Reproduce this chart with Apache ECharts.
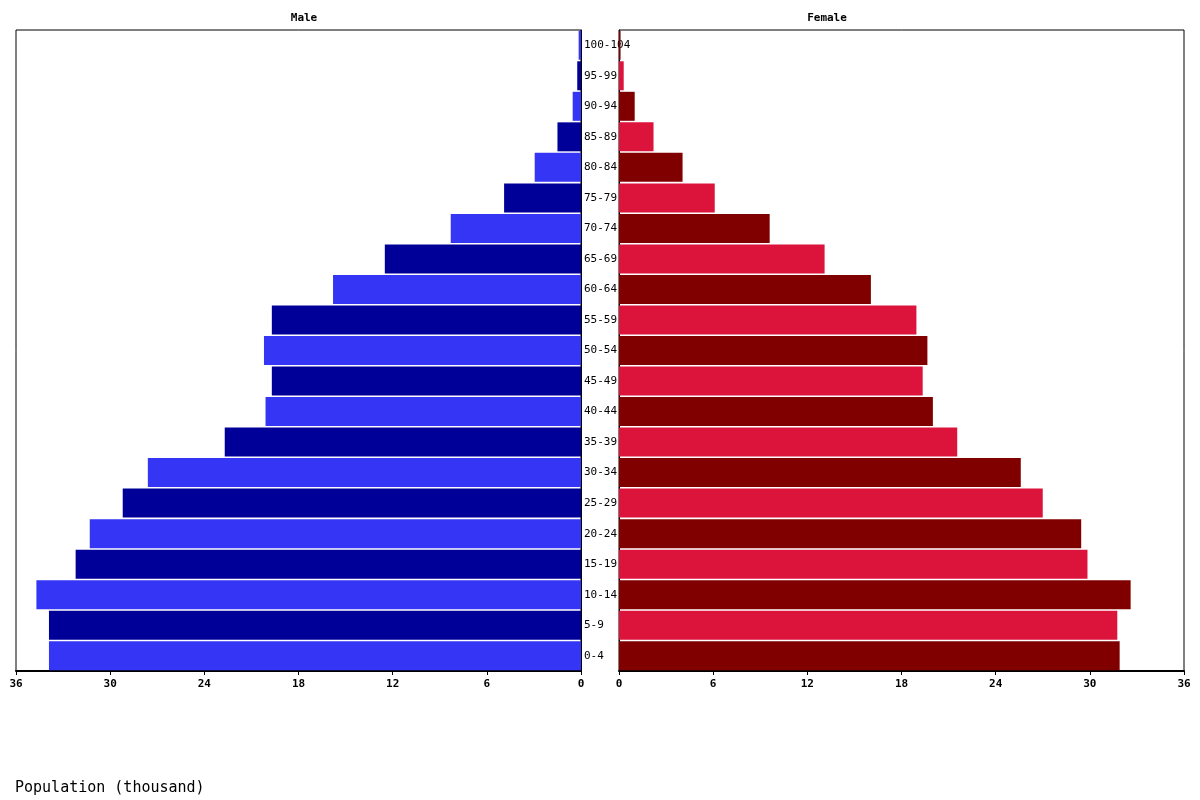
<!DOCTYPE html>
<html>
<head>
<meta charset="utf-8">
<script src="https://cdn.jsdelivr.net/npm/echarts@6/dist/echarts.min.js"></script>
<style>
  html, body { margin: 0; padding: 0; background: #fff; }
  #chart { width: 1200px; height: 800px; }
</style>
</head>
<body>
<div id="chart"></div>
<script>
var myChart = echarts.init(document.getElementById('chart'));

// age groups, bottom to top
var ageGroups = ['0-4', '5-9', '10-14', '15-19', '20-24', '25-29', '30-34', '35-39', '40-44', '45-49',
    '50-54', '55-59', '60-64', '65-69', '70-74', '75-79', '80-84', '85-89', '90-94', '95-99', '100-104'];

// population in thousands
var maleValues = [33.9, 33.9, 34.7, 32.2, 31.3, 29.2, 27.6, 22.7, 20.1, 19.7,
    20.2, 19.7, 15.8, 12.5, 8.3, 4.9, 2.95, 1.5, 0.53, 0.24, 0.15];
var femaleValues = [31.9, 31.75, 32.6, 29.85, 29.45, 27.0, 25.6, 21.55, 20.0, 19.35,
    19.65, 18.95, 16.05, 13.1, 9.6, 6.1, 4.05, 2.2, 1.0, 0.3, 0.1];

var xTicks = { min: 0, max: 36, interval: 6 };

var maleColors = ['#3535f5', '#000099'];
var femaleColors = ['#800000', '#dc143c'];

function colored(values, colors) {
    var out = [];
    for (var i = 0; i < values.length; i++) {
        out.push({ value: values[i], itemStyle: { color: colors[i % 2] } });
    }
    return out;
}

var mono = 'DejaVu Sans Mono';
var axisLabelStyle = { fontFamily: mono, fontSize: 11, fontWeight: 'bold', color: '#000', margin: 8 };

myChart.setOption({
    animation: false,
    backgroundColor: '#fff',
    title: [
        { text: 'Male', left: 299, top: 8, textAlign: 'center',
          textStyle: { fontFamily: mono, fontSize: 11, fontWeight: 'bold', color: '#000' } },
        { text: 'Female', left: 822, top: 8, textAlign: 'center',
          textStyle: { fontFamily: mono, fontSize: 11, fontWeight: 'bold', color: '#000' } },
        { text: 'Population (thousand)', left: 10, top: 776,
          textStyle: { fontFamily: mono, fontSize: 15, fontWeight: 'normal', color: '#000' } }
    ],
    grid: [
        { left: 16, top: 30, width: 565, height: 641, show: true, borderColor: '#000', borderWidth: 1 },
        { left: 619, top: 30, width: 565, height: 641, show: true, borderColor: '#000', borderWidth: 1 }
    ],
    xAxis: [
        { type: 'value', gridIndex: 0, inverse: true, min: xTicks.min, max: xTicks.max, interval: xTicks.interval,
          axisLine: { show: true, lineStyle: { color: '#000', width: 2 } },
          axisTick: { show: true, length: 4, lineStyle: { color: '#000' } },
          axisLabel: axisLabelStyle, splitLine: { show: false } },
        { type: 'value', gridIndex: 1, min: xTicks.min, max: xTicks.max, interval: xTicks.interval,
          axisLine: { show: true, lineStyle: { color: '#000', width: 2 } },
          axisTick: { show: true, length: 4, lineStyle: { color: '#000' } },
          axisLabel: axisLabelStyle, splitLine: { show: false } }
    ],
    yAxis: [
        { type: 'category', gridIndex: 0, data: ageGroups, position: 'right',
          axisLine: { show: true, lineStyle: { color: '#000' } }, axisTick: { show: false },
          axisLabel: { fontFamily: mono, fontSize: 11, color: '#000', margin: 3, align: 'left', interval: 0 } },
        { type: 'category', gridIndex: 1, data: ageGroups, position: 'left',
          axisLine: { show: true, lineStyle: { color: '#000' } }, axisTick: { show: false },
          axisLabel: { show: false } }
    ],
    series: [
        { name: 'Male', type: 'bar', xAxisIndex: 0, yAxisIndex: 0, barCategoryGap: '5%',
          data: colored(maleValues, maleColors) },
        { name: 'Female', type: 'bar', xAxisIndex: 1, yAxisIndex: 1, barCategoryGap: '5%',
          data: colored(femaleValues, femaleColors) }
    ]
});
</script>
</body>
</html>
